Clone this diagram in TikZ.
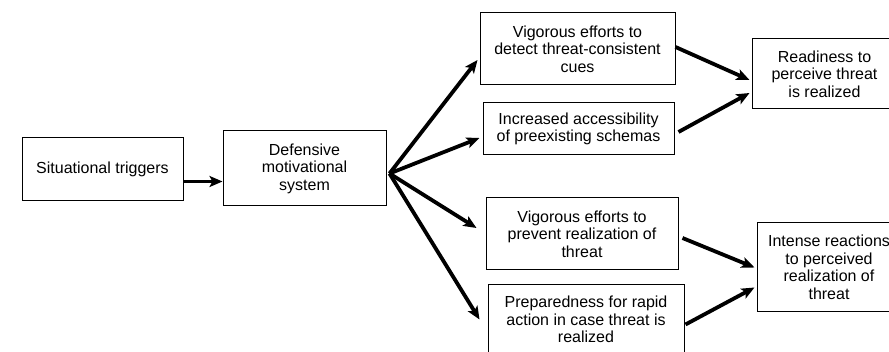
\documentclass[tikz,border=0pt]{standalone}
\usepackage{fontspec}
\setmainfont{Liberation Sans}
\usepackage{tikz}
\usetikzlibrary{arrows.meta, positioning, calc}

\begin{document}
\begin{tikzpicture}[x=1pt, y=-1pt, box/.style={draw, line width=1pt, align=center, inner sep=2pt, font=\fontsize{16}{17.5}\selectfont}, ->, >={Stealth[length=13pt, width=11pt, inset=3pt]}, link/.style={line width=3.8pt}]
        \useasboundingbox (0,0) rectangle (889,352);
        \node[box, minimum width=161pt, minimum height=63pt] (trig) at (102.5,169.5) {Situational triggers};
        \node[box, minimum width=163pt, minimum height=75pt] (dms) at (304.5,168.5) {Defensive\\motivational\\system};
        \node[box, minimum width=195pt, minimum height=72pt] (detect) at (577.5,49) {Vigorous efforts to\\detect threat-consistent\\cues};
        \node[box, minimum width=191pt, minimum height=52pt] (access) at (578.5,129) {Increased accessibility\\of preexisting schemas};
        \node[box, minimum width=192pt, minimum height=72pt] (prevent) at (582,234) {Vigorous efforts to\\prevent realization of\\threat};
        \node[box, minimum width=196pt, minimum height=69pt] (prep) at (586,319.5) {Preparedness for rapid\\action in case threat is\\realized};
        \node[box, minimum width=145pt, minimum height=70pt] (ready) at (824.5,74) {Readiness to\\perceive threat\\is realized};
        \node[box, minimum width=144pt, minimum height=89pt] (intense) at (829,267.5) {Intense reactions\\to perceived\\realization of\\threat};

        \coordinate (fan) at ([xshift=3pt, yshift=-5pt]dms.east);
        \draw[link] ([yshift=-12pt]trig.east) to ([yshift=-12pt]trig.east -| dms.west);
        \draw[link] (fan) to ([xshift=-2pt, yshift=-11pt]detect.west);
        \draw[link] (fan) to ([xshift=-3pt, yshift=-9pt]access.west);
        \draw[link] (fan) to ([xshift=-9pt, yshift=6pt]prevent.west);
        \draw[link] (fan) to ([xshift=-8pt]prep.west);
        \draw[link] ([yshift=2pt]detect.east) to ([xshift=-2pt, yshift=-6pt]ready.west);
        \draw[link] ([xshift=4pt, yshift=-3pt]access.east) to ([xshift=-2pt, yshift=-19pt]ready.west);
        \draw[link] ([xshift=4pt, yshift=-4pt]prevent.east) to ([xshift=-2pt]intense.west);
        \draw[link] ([xshift=1pt, yshift=-5pt]prep.east) to ([xshift=-2pt, yshift=-20pt]intense.west);
    \end{tikzpicture}
\end{document}
